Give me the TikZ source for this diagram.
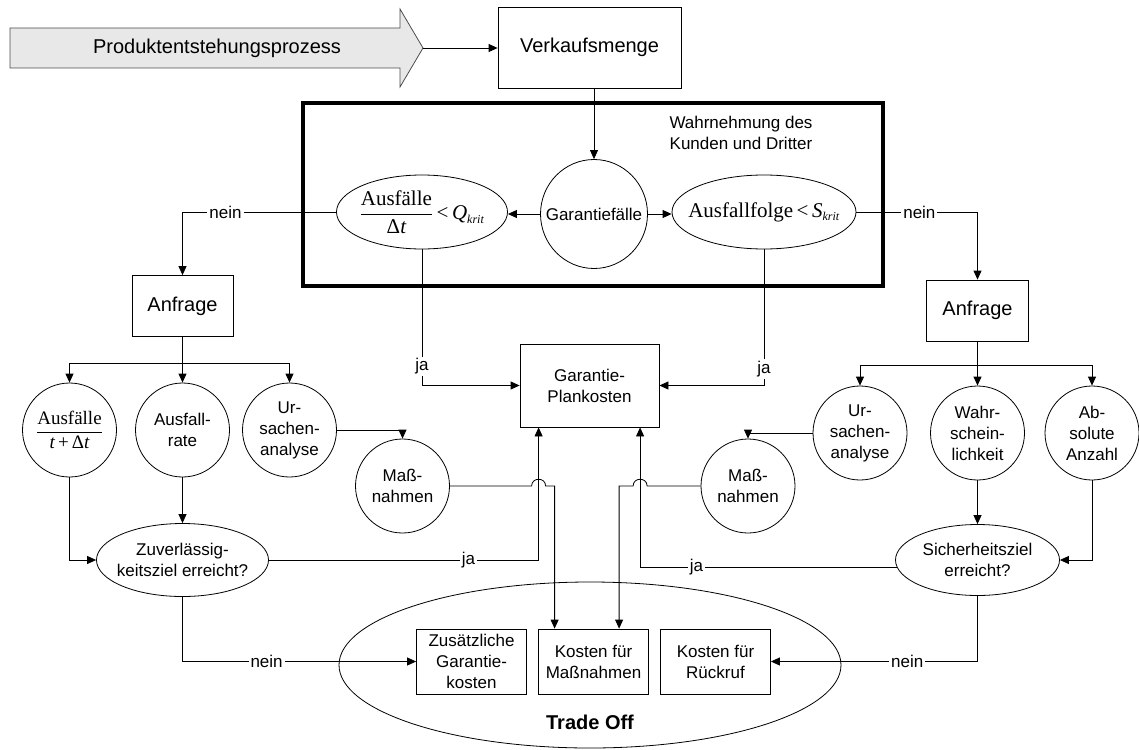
\documentclass[tikz,border=0pt]{standalone}
\usepackage{amsmath}
\usepackage{fontspec}
\setmainfont{Liberation Sans}
\newfontfamily\tnr{Liberation Serif}
\usetikzlibrary{arrows.meta,shapes.geometric,calc}
\newcommand{\rmt}[1]{\hbox{\tnr #1}}
\newcommand{\itt}[1]{\hbox{\tnr\itshape #1}}
\newcommand{\klein}{\fontsize{12}{12}\selectfont}
\newcommand{\gross}{\fontsize{20}{24}\selectfont}

\begin{document}
\begin{tikzpicture}[x=1pt,y=-1pt,line width=0.8pt,
  every node/.style={font=\fontsize{17}{21}\selectfont, inner sep=0pt},
  kasten/.style={draw, rectangle, align=center},
  rund/.style={draw, circle, minimum size=94pt, align=center},
  oval/.style={draw, ellipse},
  pfeil/.style={-{Triangle[length=9pt,width=8pt]}},
  marke/.style={fill=white, inner sep=2pt}]
\useasboundingbox (0,0) rectangle (1139,749);

\filldraw[draw=gray!60!black, fill=gray!18] (10,28)--(400,28)--(400,9)--(423,48)--(400,87)--(400,68)--(10,68)--cycle;
\node (prozess) at (217,48) {\gross Produktentstehungsprozess};
\coordinate (spitze) at (423,48);
\node[kasten, minimum width=183pt, minimum height=81pt] (verkauf) at (589.5,47.5) {\gross Verkaufsmenge};
\draw[pfeil] (spitze) -- (spitze -| verkauf.west);

\draw[line width=3.5pt] (303,103) rectangle (883,286);
\node[align=center] (wahrnehmung) at (741,133) {Wahrnehmung des\\Kunden und Dritter};

\node[oval, minimum width=107pt, minimum height=109pt, label=center:Garantiefälle] (gfaelle) at (594,214) {};
\node[oval, minimum width=171pt, minimum height=74pt,
  label={center:{\fontsize{21}{25}\selectfont$\dfrac{\rmt{Ausfälle}}{\rmt{Δ}\itt{t}}\rmt{\,<\,}\itt{Q}_{\itt{\klein krit}}$}}] (qkrit) at (422,212) {};
\node[oval, minimum width=184pt, minimum height=74pt,
  label={center:{\fontsize{21}{25}\selectfont$\rmt{Ausfallfolge\,<\,}\itt{S}_{\itt{\klein krit}}$}}] (skrit) at (764,212) {};
\draw[pfeil] (gfaelle.north |- verkauf.south) -- (gfaelle.north);
\draw[pfeil] (gfaelle.west) -- (gfaelle.west -| qkrit.east);
\draw[pfeil] (gfaelle.east) -- (gfaelle.east -| skrit.west);

\node[kasten, minimum width=101pt, minimum height=61pt] (anfrageL) at (182.5,306) {\gross Anfrage};
\node[kasten, minimum width=102pt, minimum height=61pt] (anfrageR) at (977.5,310.5) {\gross Anfrage};
\node[kasten, minimum width=139pt, minimum height=83pt] (garantie) at (589.5,385.5) {Garantie-\\Plankosten};
\draw[pfeil] (qkrit.west) -| (anfrageL.north) node[marke, pos=.36] {nein};
\draw[pfeil] (skrit.east) -| (anfrageR.north) node[marke, pos=.26] {nein};
\draw[pfeil] (qkrit.south) |- (garantie.west) node[marke, pos=.43] {ja};
\draw[pfeil] (skrit.south) |- (garantie.east) node[marke, pos=.44] {ja};

% linker Zweig
\coordinate (astL) at (182.5,363);
\node[rund] (ausfL) at (69.5,430) {\fontsize{19}{23}\selectfont$\dfrac{\rmt{Ausfälle}}{\itt{t}\rmt{\,+\,Δ}\itt{t}}$};
\node[rund] (rate) at (182.5,430) {Ausfall-\\rate};
\node[rund] (ursL) at (289.5,430) {Ur-\\sachen-\\analyse};
\node[rund] (massL) at (402.5,486) {Maß-\\nahmen};
\draw (anfrageL.south) -- (astL);
\draw[pfeil] (astL) -| (ausfL.north);
\draw[pfeil] (astL) -- (rate.north);
\draw[pfeil] (astL) -| (ursL.north);
\draw[pfeil] (ursL.east) -| (massL.north);
\node[oval, minimum width=172pt, minimum height=73pt,
  label={[align=center]center:Zuverlässig-\\keitsziel erreicht?}] (zuv) at (182.5,560) {};
\draw[pfeil] (ausfL.south) |- (zuv.west);
\draw[pfeil] (rate.south) -- (zuv.north);

% rechter Zweig
\coordinate (astR) at (977.5,365);
\node[rund] (ursR) at (860,433) {Ur-\\sachen-\\analyse};
\node[rund] (wahr) at (977.5,433) {Wahr-\\schein-\\lichkeit};
\node[rund] (absolut) at (1092,433) {Ab-\\solute\\Anzahl};
\node[rund] (massR) at (748,486) {Maß-\\nahmen};
\draw (anfrageR.south) -- (astR);
\draw[pfeil] (astR) -| (ursR.north);
\draw[pfeil] (astR) -- (wahr.north);
\draw[pfeil] (astR) -| (absolut.north);
\draw[pfeil] (ursR.west) -| (massR.north);
\node[oval, minimum width=164pt, minimum height=71pt,
  label={[align=center]center:Sicherheitsziel\\erreicht?}] (sich) at (977.5,560) {};
\draw[pfeil] (wahr.south) -- (sich.north);
\draw[pfeil] (absolut.south) |- (sich.east);

% Trade Off
\node[oval, minimum width=502pt, minimum height=166pt] (tradeoff) at (590,665) {};
\node[font=\bfseries\fontsize{20}{24}\selectfont] (tradetext) at (590,722) {Trade Off};
\node[kasten, minimum width=110pt, minimum height=65pt] (zusatz) at (471.5,661.5) {Zusätzliche\\Garantie-\\kosten};
\node[kasten, minimum width=110pt, minimum height=65pt] (kostenM) at (593.5,661.5) {Kosten für\\Maßnahmen};
\node[kasten, minimum width=110pt, minimum height=65pt] (kostenR) at (715.5,661.5) {Kosten für\\Rückruf};

\coordinate (gL) at ($(garantie.south west)+(19,0)$);
\coordinate (gR) at ($(garantie.south west)+(120.5,0)$);
\coordinate (kL) at ($(kostenM.north west)+(16.5,0)$);
\coordinate (kR) at ($(kostenM.north west)+(81,0)$);

\draw[pfeil] (zuv.east) -| (gL) node[marke, pos=.37] {ja};
\draw[pfeil] (sich.185) -| (gR) node[marke, pos=.39] {ja};
\draw[pfeil] (zuv.south) |- (zusatz.west) node[marke, pos=.68] {nein};
\draw[pfeil] (sich.south) |- (kostenR.east) node[marke, pos=.67] {nein};
\draw[pfeil] (massL.east) -- ($(massL.east -| gL)+(-7,0)$) .. controls +(0,-9) and +(0,-9) .. ++(14,0) -- (massL.east -| kL) -- (kL);
\draw[pfeil] (massR.west) -- ($(massR.west -| gR)+(7,0)$) .. controls +(0,-9) and +(0,-9) .. ++(-14,0) -- (massR.west -| kR) -- (kR);

\end{tikzpicture}
\end{document}
